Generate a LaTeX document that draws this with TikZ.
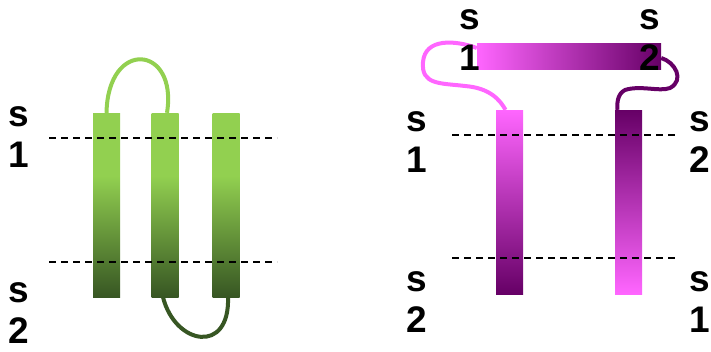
\documentclass[tikz,border=0pt]{standalone}
\usepackage{fontspec}
\setmainfont{Liberation Sans}
\usepackage{tikz}

\definecolor{lgreen}{HTML}{92D050}
\definecolor{dgreen}{HTML}{375623}
\definecolor{lpink}{HTML}{FF66FF}
\definecolor{dpurple}{HTML}{660066}

% light on top, fading to dark from one third down
\pgfdeclareverticalshading{greenbar}{100bp}{color(0bp)=(dgreen); color(25bp)=(dgreen);
  color(58bp)=(lgreen); color(75bp)=(lgreen); color(100bp)=(lgreen)}

\begin{document}
\begin{tikzpicture}[x=1pt, y=-1pt,
    strand/.style={inner sep=0pt, minimum width=27pt, minimum height=184pt},
    gstrand/.style={strand, shade, shading=greenbar},
    loopline/.style={line width=4pt},
    cutline/.style={dash pattern=on 7pt off 5pt, line width=1.5pt},
    lab/.style={align=center, inner sep=0pt, font=\fontsize{37}{41}\selectfont\bfseries}]
    \useasboundingbox (0,0) rectangle (711,351);

    % left sheet
    \node[gstrand] (g1) at (106.5,205) {};
    \node[gstrand] (g2) at (165,205) {};
    \node[gstrand] (g3) at (226,205) {};
    \draw[loopline, lgreen] (g1.north) .. controls (108,38) and (178,45) .. ([xshift=2pt]g2.north);
    \draw[loopline, dgreen] ([xshift=-2pt]g2.south) .. controls (175,345) and (230,355) .. ([xshift=2pt]g3.south);
    \draw[cutline] (49,138) -- (277,138);
    \draw[cutline] (49,262) -- (277,262);
    \node[lab] (l1) at (19,137) {s\\1};
    \node[lab] (l2) at (19,313) {s\\2};

    % right sheet
    \node[strand, top color=lpink, bottom color=dpurple] (p1) at (509.5,202) {};
    \node[strand, top color=dpurple, bottom color=lpink] (p2) at (628.5,202) {};
    \node[strand, minimum width=184pt, minimum height=26pt, left color=lpink, right color=dpurple] (p0) at (569,56) {};
    \draw[loopline, lpink] ([yshift=8pt]p0.west) .. controls (455,40) and (425,38) .. (423,62)
        .. controls (421,85) and (440,83) .. (465,86) .. controls (490,88) and (500,100) .. ([xshift=-4pt]p1.north);
    \draw[loopline, dpurple] ([yshift=-2pt]p0.east) .. controls (675,62) and (685,80) .. (670,88)
        .. controls (660,92) and (640,85) .. (625,90) .. controls (617,94) and (617,104) .. ([xshift=-11pt]p2.north);
    \draw[cutline] (452,135) -- (678,135);
    \draw[cutline] (452,258) -- (678,258);
    \node[lab] (r1) at (470,40) {s\\1};
    \node[lab] (r2) at (650,40) {s\\2};
    \node[lab] (r3) at (417,142) {s\\1};
    \node[lab] (r4) at (417,302) {s\\2};
    \node[lab] (r5) at (700,142) {s\\2};
    \node[lab] (r6) at (700,302) {s\\1};
\end{tikzpicture}
\end{document}
